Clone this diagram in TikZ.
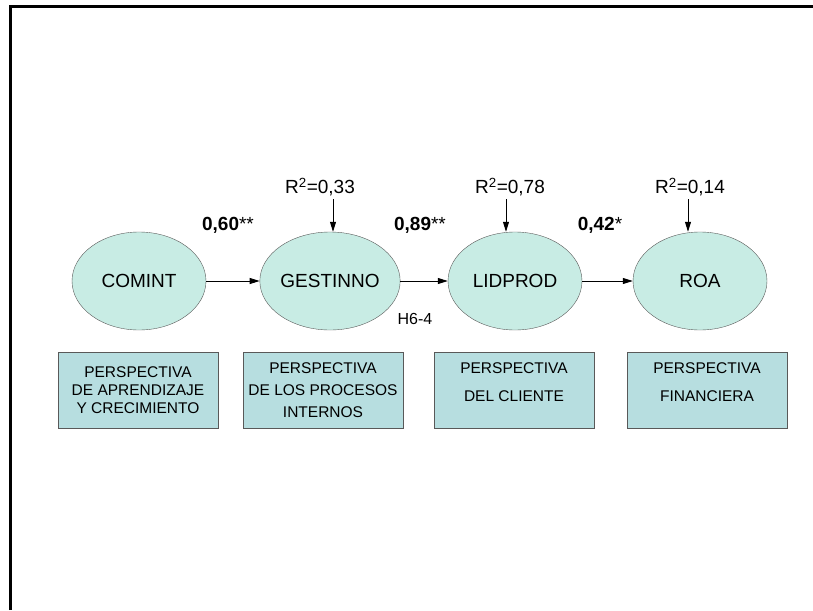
\documentclass[tikz,border=0pt]{standalone}
\usepackage{fontspec}
\setmainfont{Liberation Sans}
\usetikzlibrary{arrows.meta, shapes.geometric}
\definecolor{conFill}{RGB}{200,236,228}
\definecolor{boxFill}{RGB}{183,222,224}
\tikzset{
  construct/.style={
    ellipse,
    draw=black!65,
    fill=conFill,
    minimum width=134pt,
    minimum height=98pt,
    inner sep=0pt,
    font=\fontsize{19}{23}\selectfont
  },
  perspective/.style={
    rectangle,
    draw=black!65,
    fill=boxFill,
    minimum width=160pt,
    minimum height=76pt,
    inner sep=0pt,
    align=center,
    font=\fontsize{15.5}{18}\selectfont
  },
  link/.style={
    -{Triangle[length=10pt,width=6pt]},
    line width=0.8pt
  },
  coef/.style={
    font=\fontsize{19}{23}\selectfont
  },
  rsq/.style={
    inner sep=3pt,
    font=\fontsize{19}{23}\selectfont
  }
}

\begin{document}
\begin{tikzpicture}[x=1pt, y=-1pt]
    \useasboundingbox (0,0) rectangle (813,610);

    % marco (solo borde superior e izquierdo)
    \draw[line width=3pt, line join=miter] (10,610) -- (10,7) -- (813,7);

    % constructos
    \node[construct] (comint)   at (139,281) {COMINT};
    \node[construct] (gestinno) at (330,281) {GESTINNO};
    \node[construct] (lidprod)  at (515,281) {LIDPROD};
    \node[construct] (roa)      at (700,281) {ROA};

    % relaciones estructurales
    \draw[link] (comint) -- (gestinno);
    \draw[link] (gestinno) -- (lidprod);
    \draw[link] (lidprod) -- (roa);

    % coeficientes
    \node[coef] (c1) at (228,225) {\textbf{0,60}**};
    \node[coef] (c2) at (420,225) {\textbf{0,89}**};
    \node[coef] (c3) at (600,225) {\textbf{0,42}*};
    \node[font=\fontsize{16}{19}\selectfont] (h64) at (415,319) {H6-4};

    % varianza explicada
    \node[rsq] (r2g) at (320,187) {R\textsuperscript{2}=0,33};
    \node[rsq] (r2l) at (510,187) {R\textsuperscript{2}=0,78};
    \node[rsq] (r2r) at (690,187) {R\textsuperscript{2}=0,14};
    \draw[link] (r2g.south -| 333,0) -- (gestinno.north -| 333,0);
    \draw[link] (r2l.south -| 506,0) -- (lidprod.north -| 506,0);
    \draw[link] (r2r.south -| 688,0) -- (roa.north -| 688,0);

    % perspectivas del cuadro de mando
    \node[perspective] (p1) at (138,390) {PERSPECTIVA\\DE APRENDIZAJE\\Y CRECIMIENTO};
    \node[perspective] (p2) at (323,390) {PERSPECTIVA\\[4pt]DE LOS PROCESOS\\[4pt]INTERNOS};
    \node[perspective] (p3) at (514,390) {PERSPECTIVA\\[10pt]DEL CLIENTE\\[-8pt]\strut};
    \node[perspective] (p4) at (707,390) {PERSPECTIVA\\[10pt]FINANCIERA\\[-8pt]\strut};

\end{tikzpicture}
\end{document}
